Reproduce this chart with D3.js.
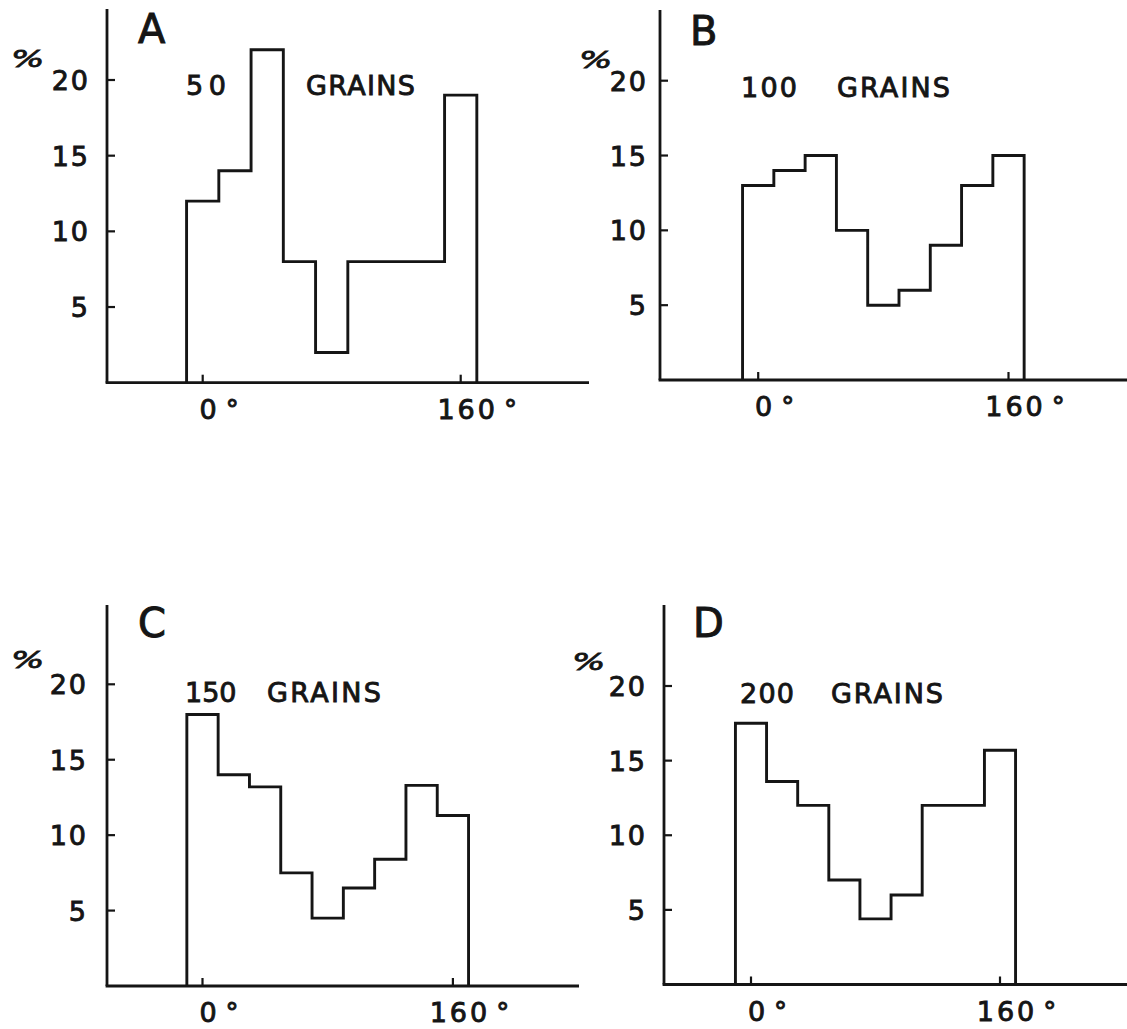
<!DOCTYPE html>
<html>
<head>
<meta charset="utf-8">
<script src="https://cdn.jsdelivr.net/npm/d3@7"></script>
<style>
  html, body { margin: 0; padding: 0; background: #ffffff; }
  svg text { font-family: "DejaVu Sans", "Liberation Sans", sans-serif; fill: #151515; stroke: #151515; stroke-width: 0.9; }
</style>
</head>
<body>
<svg id="chart" width="1127" height="1029"></svg>
<script>
// Orientation histograms: percentage of grains per 20° class, four sample sizes.
const binEdges = [-10, 10, 30, 50, 70, 90, 110, 130, 150, 170];
const panelLetters = ["A", "B", "C", "D"];
const grainCounts = ["50", "100", "150", "200"];
const grainWord = "GRAINS";
const pctA = [12, 14, 22, 8, 2, 8, 8, 8, 19];
const pctB = [13, 14, 15, 10, 5, 6, 9, 13, 15];
const pctC = [18, 14, 13.2, 7.5, 4.5, 6.5, 8.4, 13.3, 11.3];
const pctD = [17.5, 13.6, 12, 7, 4.4, 6, 12, 12, 15.7];
const yTicks = [5, 10, 15, 20];
const yTickLabels = ["5", "10", "15", "20"];
const xTicks = [0, 160];
const xTickLabels = ["0", "160"];
const unitLabel = "%";

// Page geometry of each panel (axes are hand-drawn, so each sits a little differently).
const layout = [
  { axisX: 107, top: 9,   base: 382.7, y20: 80,    x0: 202.7, x160: 460.7, right: 589,
    gap: 17, letter: [138, 43], pct: [11, 67],  count: [186, 40], grains: [306, 109], textY: 95 },
  { axisX: 660, top: 10,  base: 380,   y20: 80.7,  x0: 758.2, x160: 1008.5, right: 1127,
    gap: 12, letter: [690, 45], pct: [579, 68], count: [741, 56], grains: [837, 113], textY: 97 },
  { axisX: 107, top: 605, base: 986,   y20: 684.3, x0: 202.5, x160: 452.9, right: 579,
    gap: 19, letter: [138, 637], pct: [11, 668], count: [185, 49], grains: [267, 114], textY: 702 },
  { axisX: 664, top: 605, base: 984.5, y20: 686,   x0: 751,   x160: 1000,  right: 1127,
    gap: 17, letter: [693, 637], pct: [572, 670], count: [740, 54], grains: [831, 112], textY: 703 }
];
const series = [pctA, pctB, pctC, pctD];

const ink = "#151515";
const svg = d3.select("#chart");

// Spread a label out to a given width, never squeezing it.
function spreadTo(sel, width) {
  const natural = sel.node().getComputedTextLength();
  if (width > natural) sel.attr("textLength", width).attr("lengthAdjust", "spacing");
  return sel;
}

series.forEach((vals, i) => {
  const L = layout[i];
  const x = d3.scaleLinear().domain([0, 160]).range([L.x0, L.x160]);
  const y = d3.scaleLinear().domain([0, 20]).range([L.base, L.y20]);
  const g = svg.append("g");

  // axes
  g.append("line")
    .attr("x1", L.axisX).attr("x2", L.axisX)
    .attr("y1", L.top).attr("y2", L.base)
    .attr("stroke", ink).attr("stroke-width", 2.8);
  g.append("line")
    .attr("x1", L.axisX - 1.4).attr("x2", L.right)
    .attr("y1", L.base).attr("y2", L.base)
    .attr("stroke", ink).attr("stroke-width", 2.8);

  // y ticks point inward, labels to the left
  yTicks.forEach((t, k) => {
    g.append("line")
      .attr("x1", L.axisX).attr("x2", L.axisX + 8)
      .attr("y1", y(t)).attr("y2", y(t))
      .attr("stroke", ink).attr("stroke-width", 2.2);
    g.append("text")
      .attr("x", L.axisX - L.gap).attr("y", y(t) + 10)
      .attr("text-anchor", "end")
      .attr("font-size", 27).attr("letter-spacing", 2)
      .text(yTickLabels[k]);
  });

  // x ticks rise from the axis, labels below with a degree sign
  xTicks.forEach((t, k) => {
    g.append("line")
      .attr("x1", x(t)).attr("x2", x(t))
      .attr("y1", L.base).attr("y2", L.base - 8)
      .attr("stroke", ink).attr("stroke-width", 2.2);
    const num = g.append("text")
      .attr("x", x(t) + 7).attr("y", L.base + 36)
      .attr("text-anchor", "middle")
      .attr("font-size", 27).attr("letter-spacing", 3)
      .text(xTickLabels[k]);
    const w = num.node().getComputedTextLength();
    g.append("text")
      .attr("x", x(t) + 7 + w / 2 + 6).attr("y", L.base + 36)
      .attr("font-size", 26)
      .text("°");
  });

  // histogram outline
  const pts = [[binEdges[0], 0]];
  vals.forEach((v, j) => pts.push([binEdges[j], v]));
  pts.push([binEdges[binEdges.length - 1], vals[vals.length - 1]]);
  pts.push([binEdges[binEdges.length - 1], 0]);
  const step = d3.line().x(d => x(d[0])).y(d => y(d[1])).curve(d3.curveStepAfter);
  g.append("path")
    .attr("d", step(pts))
    .attr("fill", "none").attr("stroke", ink)
    .attr("stroke-width", 2.9).attr("stroke-linejoin", "miter");

  // panel letter, unit and sample size
  g.append("text")
    .attr("x", L.letter[0]).attr("y", L.letter[1])
    .attr("font-size", 40).style("stroke-width", 1)
    .text(panelLetters[i]);
  g.append("text")
    .attr("transform", `translate(${L.pct[0]},${L.pct[1]}) scale(1.3,0.85)`)
    .attr("font-size", 27).attr("font-style", "italic")
    .text(unitLabel);
  spreadTo(g.append("text")
    .attr("x", L.count[0]).attr("y", L.textY)
    .attr("font-size", 27)
    .text(grainCounts[i]), L.count[1]);
  spreadTo(g.append("text")
    .attr("x", L.grains[0]).attr("y", L.textY)
    .attr("font-size", 27)
    .text(grainWord), L.grains[1]);
});
</script>
</body>
</html>
